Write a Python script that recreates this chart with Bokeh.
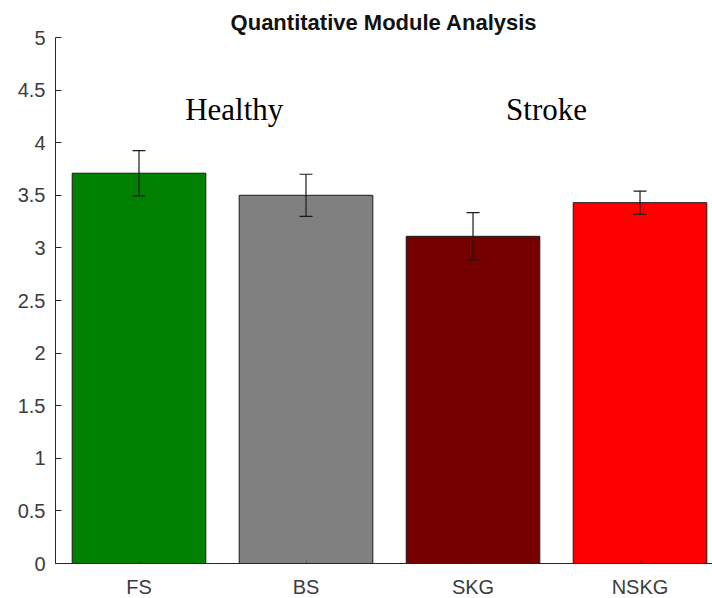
from bokeh.plotting import figure
from bokeh.models import ColumnDataSource, Whisker, TeeHead, FixedTicker, CustomJSTickFormatter, Range1d
from bokeh.core.properties import value
from bokeh.embed import file_html
from bokeh.resources import INLINE

categories = ["FS", "BS", "SKG", "NSKG"]
means = [3.71, 3.50, 3.11, 3.43]
errors = [0.215, 0.20, 0.225, 0.11]
colors = ["#007f00", "#808080", "#740000", "#ff0000"]
group_labels = ["Healthy", "Stroke"]
group_x = [1.57, 3.44]
group_y = [4.32, 4.32]
y_ticks = [0, 0.5, 1, 1.5, 2, 2.5, 3, 3.5, 4, 4.5, 5]

xs = list(range(1, len(categories) + 1))
src = ColumnDataSource(dict(
    x=xs, top=means, color=colors,
    upper=[m + e for m, e in zip(means, errors)],
    lower=[m - e for m, e in zip(means, errors)],
))

p = figure(width=712, height=598, output_backend="svg", toolbar_location=None,
           x_range=Range1d(0.5, 4.434), y_range=Range1d(0, 5),
           min_border_left=55, min_border_right=0, min_border_top=37, min_border_bottom=35,
           frame_width=657, frame_height=526,
           title="Quantitative Module Analysis")
p.title.align = "center"
p.title.offset = 10
p.title.text_font = "Liberation Sans"
p.title.text_font_size = "22px"
p.title.text_font_style = "bold"
p.title.text_color = "#111111"
p.title.standoff = 6

p.outline_line_color = None
p.xgrid.visible = False
p.ygrid.visible = False
p.background_fill_color = "white"
p.border_fill_color = "white"

p.vbar(x="x", top="top", width=0.8, bottom=0, fill_color="color",
       line_color="#1a1a1a", line_width=1, source=src)

w = Whisker(base="x", upper="upper", lower="lower", source=src, level="overlay",
            line_color="#1a1a1a", line_width=1.2)
w.upper_head = TeeHead(size=13, line_color="#1a1a1a", line_width=1.2)
w.lower_head = TeeHead(size=13, line_color="#1a1a1a", line_width=1.2)
p.add_layout(w)

tsrc = ColumnDataSource(dict(x=group_x, y=group_y, t=group_labels))
p.text(x="x", y="y", text="t", source=tsrc, text_font=value("Liberation Serif"),
       text_font_size="31px", text_align="center", text_baseline="middle",
       text_color="black")

# axes
for ax in (p.xaxis[0], p.yaxis[0]):
    ax.axis_line_color = "#262626"
    ax.axis_line_width = 1
    ax.major_tick_line_color = "#262626"
    ax.minor_tick_line_color = None
    ax.major_label_text_font = "Liberation Sans"
    ax.major_label_text_font_size = "20px"
    ax.major_label_text_color = "#3c3c3c"
    ax.major_tick_out = 0

p.yaxis.ticker = FixedTicker(ticks=y_ticks)
p.yaxis.major_tick_in = 6
p.yaxis.formatter = CustomJSTickFormatter(code="return String(Math.round(tick*10)/10);")
p.yaxis.major_label_standoff = 10

p.xaxis.ticker = FixedTicker(ticks=xs)
p.xaxis.major_tick_in = 3
p.xaxis.major_tick_line_alpha = 0.4
p.xaxis.formatter = CustomJSTickFormatter(args=dict(labels=categories),
                                          code="return labels[Math.round(tick)-1];")
p.xaxis.major_label_standoff = 12

open("out.html", "w").write(file_html(p, INLINE))
